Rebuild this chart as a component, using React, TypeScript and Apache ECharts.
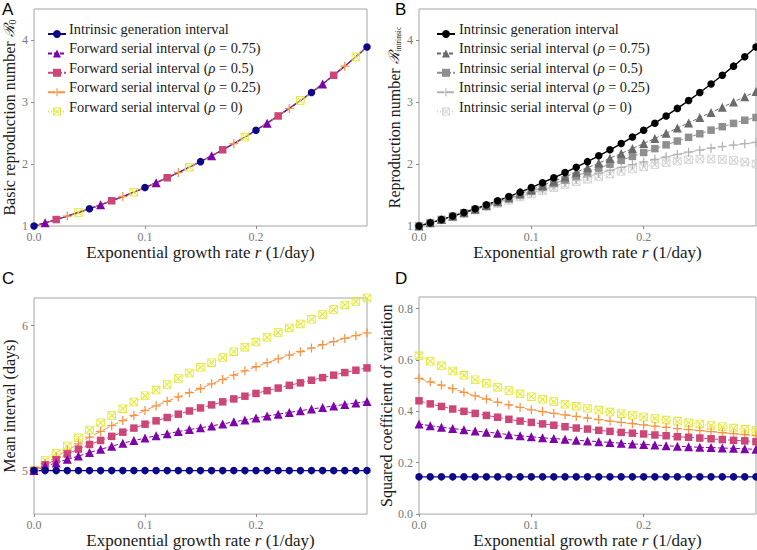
import React, { useEffect, useRef } from 'react';
import * as echarts from 'echarts';

// growth rate r (1/day)
const rValues = [0, 0.01, 0.02, 0.03, 0.04, 0.05, 0.06, 0.07, 0.08, 0.09, 0.1, 0.11, 0.12, 0.13, 0.14, 0.15, 0.16, 0.17, 0.18, 0.19, 0.2, 0.21, 0.22, 0.23, 0.24, 0.25, 0.26, 0.27, 0.28, 0.29, 0.3];

// Panel A: basic reproduction number (all curves coincide)
const basicR0 = [1.0, 1.051, 1.104, 1.16, 1.218, 1.278, 1.341, 1.407, 1.475, 1.546, 1.62, 1.698, 1.778, 1.861, 1.948, 2.038, 2.132, 2.229, 2.33, 2.435, 2.544, 2.658, 2.775, 2.897, 3.023, 3.154, 3.29, 3.431, 3.578, 3.729, 3.886];

// Panel B: reproduction number from intrinsic serial intervals
const rIntrinsicGen = [1.0, 1.051, 1.104, 1.16, 1.218, 1.278, 1.341, 1.407, 1.475, 1.546, 1.62, 1.698, 1.778, 1.861, 1.948, 2.038, 2.132, 2.229, 2.33, 2.435, 2.544, 2.658, 2.775, 2.897, 3.023, 3.154, 3.29, 3.431, 3.578, 3.729, 3.886];
const rSerial075 = [1.0, 1.051, 1.103, 1.158, 1.214, 1.271, 1.331, 1.392, 1.455, 1.519, 1.585, 1.653, 1.722, 1.793, 1.866, 1.94, 2.015, 2.092, 2.17, 2.249, 2.33, 2.412, 2.495, 2.579, 2.663, 2.749, 2.832, 2.915, 3.0, 3.085, 3.17];
const rSerial05 = [1.0, 1.051, 1.103, 1.156, 1.211, 1.266, 1.323, 1.381, 1.44, 1.5, 1.56, 1.621, 1.683, 1.745, 1.808, 1.871, 1.934, 1.997, 2.06, 2.123, 2.186, 2.248, 2.309, 2.37, 2.43, 2.488, 2.546, 2.602, 2.655, 2.706, 2.75];
const rSerial025 = [1.0, 1.051, 1.102, 1.154, 1.207, 1.261, 1.315, 1.369, 1.423, 1.478, 1.532, 1.586, 1.64, 1.693, 1.745, 1.797, 1.847, 1.896, 1.944, 1.99, 2.034, 2.076, 2.116, 2.154, 2.19, 2.223, 2.254, 2.281, 2.306, 2.328, 2.347];
const rSerial0 = [1.0, 1.05, 1.102, 1.153, 1.205, 1.258, 1.31, 1.362, 1.414, 1.466, 1.517, 1.567, 1.617, 1.665, 1.712, 1.756, 1.8, 1.84, 1.882, 1.919, 1.954, 1.99, 2.02, 2.048, 2.068, 2.08, 2.082, 2.074, 2.058, 2.034, 2.0];

// Panel C: mean interval (days)
const meanIntrinsic = [5, 5, 5, 5, 5, 5, 5, 5, 5, 5, 5, 5, 5, 5, 5, 5, 5, 5, 5, 5, 5, 5, 5, 5, 5, 5, 5, 5, 5, 5, 5];
const meanFwd075 = [5.0, 5.03, 5.053, 5.078, 5.1, 5.124, 5.147, 5.168, 5.189, 5.207, 5.224, 5.24, 5.254, 5.269, 5.283, 5.295, 5.308, 5.322, 5.336, 5.349, 5.362, 5.376, 5.389, 5.401, 5.413, 5.425, 5.435, 5.446, 5.456, 5.466, 5.477];
const meanFwd05 = [5.0, 5.04, 5.075, 5.114, 5.148, 5.18, 5.208, 5.236, 5.265, 5.293, 5.32, 5.343, 5.366, 5.389, 5.411, 5.432, 5.453, 5.474, 5.494, 5.513, 5.532, 5.551, 5.569, 5.588, 5.605, 5.623, 5.641, 5.658, 5.676, 5.692, 5.708];
const meanFwd025 = [5.0, 5.05, 5.095, 5.14, 5.185, 5.23, 5.27, 5.31, 5.345, 5.38, 5.415, 5.447, 5.478, 5.508, 5.537, 5.566, 5.598, 5.628, 5.658, 5.688, 5.716, 5.744, 5.77, 5.796, 5.82, 5.845, 5.868, 5.89, 5.911, 5.93, 5.95];
const meanFwd0 = [5.0, 5.07, 5.12, 5.17, 5.226, 5.28, 5.33, 5.379, 5.427, 5.473, 5.516, 5.555, 5.594, 5.635, 5.673, 5.712, 5.744, 5.779, 5.82, 5.851, 5.886, 5.92, 5.952, 5.984, 6.011, 6.043, 6.077, 6.11, 6.142, 6.166, 6.19];

// Panel D: squared coefficient of variation
const cv2Intrinsic = [0.145, 0.145, 0.145, 0.145, 0.145, 0.145, 0.145, 0.145, 0.145, 0.145, 0.145, 0.145, 0.145, 0.145, 0.145, 0.145, 0.145, 0.145, 0.145, 0.145, 0.145, 0.145, 0.145, 0.145, 0.145, 0.145, 0.145, 0.145, 0.145, 0.145, 0.145];
const cv2Fwd075 = [0.351, 0.344, 0.338, 0.333, 0.328, 0.323, 0.319, 0.315, 0.309, 0.305, 0.301, 0.297, 0.294, 0.291, 0.287, 0.285, 0.282, 0.279, 0.276, 0.273, 0.271, 0.269, 0.266, 0.264, 0.262, 0.26, 0.259, 0.257, 0.256, 0.254, 0.252];
const cv2Fwd05 = [0.441, 0.429, 0.419, 0.409, 0.4, 0.392, 0.384, 0.377, 0.369, 0.362, 0.357, 0.351, 0.346, 0.34, 0.335, 0.331, 0.326, 0.322, 0.318, 0.315, 0.312, 0.308, 0.305, 0.301, 0.299, 0.296, 0.293, 0.29, 0.287, 0.285, 0.282];
const cv2Fwd025 = [0.528, 0.515, 0.502, 0.488, 0.474, 0.46, 0.448, 0.436, 0.425, 0.415, 0.406, 0.399, 0.392, 0.386, 0.38, 0.374, 0.368, 0.362, 0.357, 0.352, 0.347, 0.342, 0.338, 0.333, 0.329, 0.325, 0.321, 0.317, 0.313, 0.309, 0.305];
const cv2Fwd0 = [0.616, 0.595, 0.577, 0.557, 0.54, 0.523, 0.509, 0.494, 0.481, 0.468, 0.457, 0.447, 0.438, 0.428, 0.42, 0.412, 0.405, 0.397, 0.391, 0.385, 0.378, 0.372, 0.366, 0.361, 0.356, 0.351, 0.345, 0.34, 0.335, 0.33, 0.325];

// tick labels
const xTicks = [0, 0.1, 0.2];
const rTicks = [1, 2, 3, 4];
const meanTicks = [5, 6];
const cv2Ticks = [0, 0.2, 0.4, 0.6, 0.8];

const legendLabelsA = ['Intrinsic generation interval', 'Forward serial interval', 'Forward serial interval', 'Forward serial interval', 'Forward serial interval'];
const legendLabelsB = ['Intrinsic generation interval', 'Intrinsic serial interval', 'Intrinsic serial interval', 'Intrinsic serial interval', 'Intrinsic serial interval'];
const rhoLabels = ['', '0.75', '0.5', '0.25', '0'];

const SERIF = "Liberation Serif, DejaVu Serif, serif";
const PLUS = 'path://M4.3,0H5.7V4.3H10V5.7H5.7V10H4.3V5.7H0V4.3H4.3Z';
const SQX = 'path://M0,0H10V10H0Z M1,1V9H9V1Z M1,1.8L1.8,1L9,8.2L8.2,9Z M8.2,1L9,1.8L1.8,9L1,8.2Z';

const colorsColor = ['#0D0887', '#7E03A8', '#CC4678', '#F89441', '#E3E82C'];
const colorsGrey = ['#000000', '#6a6a6a', '#8f8f8f', '#b3b3b3', '#cfcfcf'];
const symbols = ['circle', 'triangle', 'rect', PLUS, SQX];
const symSizes = [7.5, 9, 7.5, 9, 8.5];
const dashes: any[] = ['solid', [4, 2], [6, 2], [7, 3], [1, 2]];
const widths = [1.4, 1, 1, 1, 1];

function mkSeries(name: string, values: number[], g: number, k: number, colors: string[], markerEvery?: number) {
  const size = symSizes[k];
  return {
    type: 'line',
    name,
    xAxisIndex: g,
    yAxisIndex: g,
    data: rValues.map((r, i) => [r, values[i]]),
    symbol: symbols[k],
    symbolSize: markerEvery
      ? (_v: any, p: any) => (p.dataIndex % markerEvery === k ? size : 0)
      : size,
    showSymbol: true,
    lineStyle: { color: colors[k], width: widths[k], type: dashes[k] },
    itemStyle: { color: colors[k] },
    silent: true,
    clip: true,
  };
}

function legendRichText(labels: string[], k: number) {
  if (k === 0) return `{n|${labels[0]}}`;
  return `{n|${labels[k]} (}{i|ρ}{n| = ${rhoLabels[k]})}`;
}

const LEG_FS = 14.4;
const legendRich = {
  n: { fontFamily: SERIF, fontSize: LEG_FS, fill: '#1a1a1a', color: '#1a1a1a' },
  i: { fontFamily: SERIF, fontSize: LEG_FS, fontStyle: 'italic', fill: '#1a1a1a', color: '#1a1a1a' },
};

const xTitleRich = {
  n: { fontFamily: SERIF, fontSize: 17, color: '#1a1a1a' },
  i: { fontFamily: SERIF, fontSize: 17, fontStyle: 'italic', color: '#1a1a1a' },
};

const titleRich = {
  n: { fontFamily: SERIF, fontSize: 16, color: '#1a1a1a' },
  s: { fontFamily: 'DejaVu Serif, serif', fontSize: 14.5, fontStyle: 'italic', color: '#1a1a1a' },
  sub: { fontFamily: SERIF, fontSize: 10, color: '#1a1a1a', verticalAlign: 'bottom' },
  sub2: { fontFamily: SERIF, fontSize: 7.5, color: '#1a1a1a', verticalAlign: 'bottom' },
};

const tickLabel = { fontFamily: SERIF, fontSize: 12, color: '#777' };

function xAxis(g: number) {
  return {
    type: 'value',
    gridIndex: g,
    min: 0,
    max: 0.3,
    name: '{n|Exponential growth rate }{i|r}{n| (1/day)}',
    nameLocation: 'middle',
    nameGap: 16,
    nameTextStyle: { fontFamily: SERIF, rich: xTitleRich },
    axisLine: { show: false },
    axisTick: { show: true, length: 3, lineStyle: { color: '#8a8a8a' }, customValues: xTicks },
    axisLabel: {
      customValues: xTicks,
      formatter: (v: number) => v.toFixed(1),
      ...tickLabel,
      margin: 5,
    },
    splitLine: { show: false },
  };
}

function yAxis(g: number, ticks: number[], fmt: (v: number) => string, opts: any) {
  return {
    type: 'value',
    gridIndex: g,
    nameLocation: 'middle',
    nameTextStyle: { fontFamily: SERIF, rich: titleRich },
    axisLine: { show: false },
    axisTick: { show: true, length: 3, lineStyle: { color: '#8a8a8a' }, customValues: ticks },
    axisLabel: { customValues: ticks, formatter: fmt, ...tickLabel, margin: 6 },
    splitLine: { show: false },
    ...opts,
  };
}

const ROW_Y = [29, 48.4, 67.8, 87.2, 106.6];

export default function App() {
  const ref = useRef<HTMLDivElement>(null);
  useEffect(() => {
    if (!ref.current) return;
    const chart = echarts.init(ref.current, undefined, { renderer: 'svg' });
    const gridStyle = { show: true, borderColor: '#a3a3a3', borderWidth: 1 };
    const seriesA = [0, 1, 2, 3, 4].map((k) => mkSeries('A' + k, basicR0, 0, k, colorsColor, 5));
    const bData = [rIntrinsicGen, rSerial075, rSerial05, rSerial025, rSerial0];
    const cData = [meanIntrinsic, meanFwd075, meanFwd05, meanFwd025, meanFwd0];
    const dData = [cv2Intrinsic, cv2Fwd075, cv2Fwd05, cv2Fwd025, cv2Fwd0];
    const seriesB = [4, 3, 2, 1, 0].map((k) => mkSeries('B' + k, bData[k], 1, k, colorsGrey));
    const seriesC = [4, 3, 2, 1, 0].map((k) => mkSeries('C' + k, cData[k], 2, k, colorsColor));
    const seriesD = [4, 3, 2, 1, 0].map((k) => mkSeries('D' + k, dData[k], 3, k, colorsColor));
    const orderedA = [seriesA[0], seriesA[2], seriesA[4], seriesA[3], seriesA[1]];
    const intFmt = (v: number) => String(Math.round(v));
    const decFmt = (v: number) => v.toFixed(1);
    const letterFont = 'Liberation Sans, Arial, sans-serif';

    // one legend per row (icon only), labels drawn as rich graphic text
    const legends: any[] = [];
    const legendTexts: any[] = [];
    [0, 1, 2, 3, 4].forEach((k) => {
      legends.push({
        orient: 'vertical', left: 42, top: ROW_Y[k] - 5, itemWidth: 18, itemHeight: 10,
        selectedMode: false, data: ['A' + k], formatter: () => '',
        textStyle: { fontSize: 1 },
      });
      legends.push({
        orient: 'vertical', left: 431, top: ROW_Y[k] - 5, itemWidth: 18, itemHeight: 10,
        selectedMode: false, data: ['B' + k], formatter: () => '',
        textStyle: { fontSize: 1 },
      });
      legendTexts.push({
        type: 'text', x: 69, y: ROW_Y[k], silent: true,
        style: { text: legendRichText(legendLabelsA, k), rich: legendRich, verticalAlign: 'middle', align: 'left', fontFamily: SERIF, fontSize: LEG_FS, fill: '#1a1a1a' },
      });
      legendTexts.push({
        type: 'text', x: 459, y: ROW_Y[k], silent: true,
        style: { text: legendRichText(legendLabelsB, k), rich: legendRich, verticalAlign: 'middle', align: 'left', fontFamily: SERIF, fontSize: LEG_FS, fill: '#1a1a1a' },
      });
    });

    chart.setOption({
      animation: false,
      backgroundColor: '#ffffff',
      textStyle: { fontFamily: SERIF },
      grid: [
        { left: 31, top: 9, width: 336, height: 217, ...gridStyle },
        { left: 419, top: 9, width: 337, height: 217, ...gridStyle },
        { left: 31, top: 298, width: 336, height: 218, ...gridStyle },
        { left: 419, top: 297, width: 337, height: 218, ...gridStyle },
      ],
      xAxis: [xAxis(0), xAxis(1), xAxis(2), xAxis(3)],
      yAxis: [
        yAxis(0, rTicks, intFmt, {
          min: 1, max: 4.5, nameGap: 17,
          name: '{n|Basic reproduction number }{s|ℛ}{sub|0}',
        }),
        yAxis(1, rTicks, intFmt, {
          min: 1, max: 4.5, nameGap: 17,
          name: '{n|Reproduction number }{s|ℛ}{sub2|intrinsic}',
        }),
        yAxis(2, meanTicks, intFmt, {
          min: 4.7, max: 6.19, nameGap: 17,
          name: '{n|Mean interval (days)}',
        }),
        yAxis(3, cv2Ticks, decFmt, {
          min: 0, max: 0.845, nameGap: 23,
          name: '{n|Squared coefficient of variation}',
        }),
      ],
      legend: legends,
      graphic: [
        ...legendTexts,
        { type: 'text', left: 2, top: 1, style: { text: 'A', fontSize: 17, fontFamily: letterFont, fill: '#000' } },
        { type: 'text', left: 395, top: 1, style: { text: 'B', fontSize: 17, fontFamily: letterFont, fill: '#000' } },
        { type: 'text', left: 2, top: 270, style: { text: 'C', fontSize: 17, fontFamily: letterFont, fill: '#000' } },
        { type: 'text', left: 395, top: 270, style: { text: 'D', fontSize: 17, fontFamily: letterFont, fill: '#000' } },
      ],
      series: [...orderedA, ...seriesB, ...seriesC, ...seriesD],
    } as any);
    return () => chart.dispose();
  }, []);
  return (
    <div
      ref={ref}
      style={{ position: 'fixed', left: 0, top: 0, width: 757, height: 550, background: '#fff' }}
    />
  );
}
